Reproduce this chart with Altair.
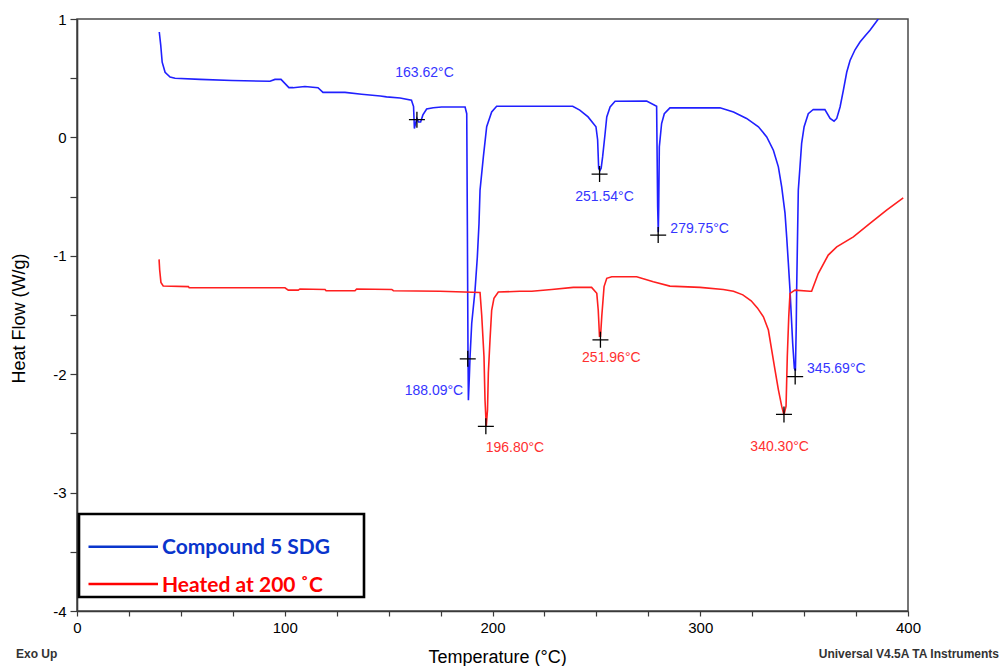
import altair as alt
import pandas as pd

# ---- data ----
blue_T = [39.6, 40.3, 41.0, 42.4, 44.8, 47.2, 59.2, 74.6, 92.9, 95.3, 98.2, 102.0, 104.0, 109.7, 116.0,
          118.4, 129.0, 137.0, 146.0, 149.0, 155.5, 161.0, 162.0, 162.4, 163.0, 163.6, 164.4, 165.4,
          166.5, 168.3, 171.5, 175.5, 186.8, 187.6, 187.9, 188.2, 188.4, 188.9, 189.2, 190.0, 191.6,
          192.7, 193.5, 194.0, 195.6, 197.2, 199.6, 202.0, 238.6, 242.0, 246.0, 249.8, 250.6, 251.1,
          251.7, 252.3, 253.0, 254.2, 255.0, 256.6, 259.0, 274.2, 279.0, 279.5, 279.8, 280.0, 280.3,
          281.4, 282.7, 285.4, 309.5, 316.0, 322.3, 328.0, 332.0, 335.2, 337.6, 339.2, 340.8, 341.6,
          342.4, 343.2, 344.5, 345.3, 345.8, 346.2, 346.4, 347.2, 348.0, 348.8, 350.0, 352.0, 354.4,
          360.0, 362.5, 364.4, 365.7, 367.3, 368.9, 370.5, 372.1, 374.5, 376.9, 379.5, 381.7, 385.7]
blue_Y = [0.89, 0.78, 0.635, 0.55, 0.51, 0.50, 0.49, 0.48, 0.474, 0.49, 0.49, 0.42, 0.42, 0.43, 0.42,
          0.38, 0.38, 0.365, 0.35, 0.342, 0.333, 0.314, 0.26, 0.075, 0.12, 0.16, 0.13, 0.13,
          0.19, 0.24, 0.25, 0.257, 0.257, 0.20, -0.74, -1.80, -2.22, -2.00, -1.85, -1.57, -1.29,
          -1.01, -0.73, -0.445, -0.165, 0.09, 0.215, 0.263, 0.263, 0.23, 0.173, 0.09, -0.02, -0.26,
          -0.28, -0.26, -0.165, 0.033, 0.173, 0.257, 0.305, 0.308, 0.263, -0.587, -0.80, -0.60, -0.08,
          0.117, 0.20, 0.249, 0.250, 0.215, 0.16, 0.09, 0.004, -0.108, -0.249, -0.418, -0.64, -0.84,
          -1.06, -1.29, -1.74, -1.95, -1.97, -1.60, -1.29, -0.445, -0.25, -0.05, 0.09, 0.20, 0.236,
          0.235, 0.16, 0.137, 0.16, 0.257, 0.40, 0.55, 0.65, 0.74, 0.806, 0.86, 0.905, 1.0]

red_T = [39.5, 39.8, 40.4, 41.5, 53.6, 54.0, 100.1, 101.7, 106.5, 107.3, 119.4, 119.9, 133.8, 134.6,
         151.5, 152.3, 174.7, 194.0, 194.8, 195.9, 196.4, 197.0, 197.6, 198.0, 198.8, 199.6, 200.7,
         202.8, 213.2, 218.9, 228.5, 238.9, 247.7, 250.2, 250.9, 251.5, 252.0, 252.6, 253.7, 255.0,
         257.4, 269.4, 277.4, 285.4, 299.9, 311.1, 316.0, 320.5, 324.5, 327.5, 330.4, 332.8, 334.4,
         336.0, 337.6, 339.2, 340.3, 341.3, 341.9, 342.6, 343.2, 345.6, 352.8, 353.6, 356.8, 361.6,
         365.7, 373.7, 381.7, 389.7, 397.7]
red_Y = [-1.03, -1.12, -1.225, -1.255, -1.26, -1.27, -1.27, -1.29, -1.29, -1.28, -1.284, -1.295, -1.295, -1.28,
         -1.284, -1.295, -1.30, -1.31, -1.50, -1.85, -2.22, -2.44, -2.30, -1.99, -1.71, -1.46, -1.36,
         -1.306, -1.30, -1.30, -1.284, -1.267, -1.267, -1.317, -1.46, -1.68, -1.68, -1.51, -1.26, -1.19,
         -1.177, -1.177, -1.22, -1.256, -1.267, -1.284, -1.30, -1.33, -1.38, -1.44, -1.515, -1.627, -1.796,
         -1.965, -2.13, -2.27, -2.344, -2.27, -1.85, -1.515, -1.317, -1.29, -1.30, -1.30, -1.15, -0.994,
         -0.924, -0.84, -0.727, -0.614, -0.51]

# peak markers (crosses)
peak_T = [163.62, 188.09, 251.54, 279.75, 345.69, 196.80, 251.96, 340.30]
peak_Y = [0.15, -1.87, -0.31, -0.825, -2.02, -2.44, -1.71, -2.34]

# peak labels
label_text = ["163.62°C", "188.09°C", "251.54°C", "279.75°C", "345.69°C", "196.80°C", "251.96°C", "340.30°C"]
label_T = [167.3, 171.8, 253.9, 299.7, 365.5, 210.8, 257.2, 338.2]
label_Y = [0.54, -2.14, -0.50, -0.77, -1.956, -2.625, -1.866, -2.612]
label_series = ["blue", "blue", "blue", "blue", "blue", "red", "red", "red"]

series_names = ["Compound 5 SDG", "Heated at 200 ˚C"]
curve_colors = ["#2020ff", "#ff1f1f"]
label_colors = ["#3535ff", "#ff3030"]
legend_colors = ["#0a35cc", "#ff0000"]

y_ticks = [v / 4 for v in range(-16, 5)]
x_ticks = list(range(0, 401, 25))

# ---- tables ----
blue_df = pd.DataFrame({"T": blue_T, "Y": blue_Y, "i": range(len(blue_T))})
red_df = pd.DataFrame({"T": red_T, "Y": red_Y, "i": range(len(red_T))})
peaks_df = pd.DataFrame({"T": peak_T, "Y": peak_Y})
labels_df = pd.DataFrame({"text": label_text, "T": label_T, "Y": label_Y, "s": label_series})

W, H = 831, 592
FONT = "Liberation Sans"

xs = alt.Scale(domain=[0, 400], nice=False, zero=False)
ys = alt.Scale(domain=[-4, 1], nice=False, zero=False)

x_axis = alt.Axis(values=x_ticks, labelExpr="datum.value % 100 == 0 ? toString(datum.value) : ''",
                  title="Temperature (°C)", grid=False, tickSize=5, labelPadding=4,
                  labelFontSize=15, labelFont=FONT, labelColor="#000", labelOverlap=False,
                  labelFlush=False, titleFont=FONT, titleFontSize=18, titleFontWeight="normal",
                  titleColor="#000", titleX=420, titleY=46, titleBaseline="middle", titleAlign="center")
y_axis = alt.Axis(values=y_ticks, labelExpr="datum.value % 1 == 0 ? toString(datum.value) : ''",
                  title="Heat Flow (W/g)", grid=False, tickSize=7, labelPadding=4,
                  labelFontSize=15, labelFont=FONT, labelColor="#000", labelOverlap=False,
                  labelFlush=False, titleFont=FONT, titleFontSize=18, titleFontWeight="normal",
                  titleColor="#000", titleX=-58, titleY=299, titleAngle=-90,
                  titleBaseline="middle", titleAlign="center")

blue_line = alt.Chart(blue_df).mark_line(color=curve_colors[0], strokeWidth=1.6, clip=True).encode(
    x=alt.X("T:Q", scale=xs, axis=x_axis),
    y=alt.Y("Y:Q", scale=ys, axis=y_axis),
    order="i:Q",
)
red_line = alt.Chart(red_df).mark_line(color=curve_colors[1], strokeWidth=1.6, clip=True).encode(
    x=alt.X("T:Q", scale=xs), y=alt.Y("Y:Q", scale=ys), order="i:Q"
)
crosses = alt.Chart(peaks_df).mark_point(
    shape="M-1,0H1M0,-1V1", size=256, filled=False, color="black", strokeWidth=1.3, opacity=1
).encode(x=alt.X("T:Q", scale=xs), y=alt.Y("Y:Q", scale=ys))

labels = alt.Chart(labels_df).mark_text(font=FONT, fontSize=14, baseline="middle", align="center").encode(
    x=alt.X("T:Q", scale=xs), y=alt.Y("Y:Q", scale=ys), text="text:N",
    color=alt.Color("s:N", scale=alt.Scale(domain=["blue", "red"], range=label_colors), legend=None),
)

# ---- legend box ----
one = pd.DataFrame({"a": [0]})
box = alt.Chart(one).mark_rect(fill="white", stroke="black", strokeWidth=2.6).encode(
    x=alt.value(2), x2=alt.value(287), y=alt.value(495), y2=alt.value(578)
)
legend_layers = [box]
for k, (name, col) in enumerate(zip(series_names, legend_colors)):
    ly = [527.7, 565.0][k]
    legend_layers.append(alt.Chart(one).mark_rule(color=col, strokeWidth=2.4).encode(
        x=alt.value(11.5), x2=alt.value(81), y=alt.value(ly)))
    legend_layers.append(alt.Chart(one).mark_text(
        text=name, font="Lato", fontWeight="bold", fontSize=21, color=col, align="left",
        baseline="alphabetic").encode(x=alt.value(85), y=alt.value([534.5, 572.5][k])))

footer_left = alt.Chart(one).mark_text(text="Exo Up", font=FONT, fontWeight="bold", fontSize=12,
                                       color="#333", align="left", baseline="middle").encode(
    x=alt.value(-61), y=alt.value(634.5))
footer_right = alt.Chart(one).mark_text(text="Universal V4.5A TA Instruments", font=FONT, fontWeight="bold",
                                        fontSize=12, color="#333", align="right", baseline="middle").encode(
    x=alt.value(922), y=alt.value(634.5))

chart = alt.layer(blue_line, red_line, crosses, labels, *legend_layers, footer_left, footer_right).properties(
    width=W, height=H,
    autosize=alt.AutoSizeParams(type="none"),
    padding={"left": 77, "top": 19, "right": 93, "bottom": 55},
).configure_view(stroke="#4a4a4a", strokeWidth=1.5).configure_axis(
    domainColor="#3a3a3a", domainWidth=1.6, tickColor="#3a3a3a", tickWidth=1.2
)

chart.save("out.html", embed_options={"renderer": "svg", "actions": False})
